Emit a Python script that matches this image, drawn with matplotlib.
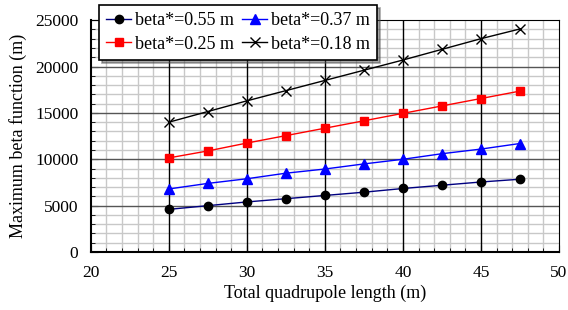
import matplotlib
matplotlib.use('Agg')
import matplotlib.pyplot as plt
from matplotlib.ticker import MultipleLocator

plt.rcParams['font.family'] = ['Liberation Serif', 'DejaVu Serif']

length = [25, 27.5, 30, 32.5, 35, 37.5, 40, 42.5, 45, 47.5]
beta_055 = [4600, 5000, 5400, 5750, 6100, 6450, 6850, 7200, 7550, 7850]
beta_037 = [6800, 7400, 7900, 8500, 8950, 9500, 10000, 10600, 11100, 11700]
beta_025 = [10150, 10900, 11750, 12550, 13350, 14150, 14950, 15750, 16550, 17350]
beta_018 = [14000, 15150, 16300, 17400, 18500, 19600, 20700, 21850, 23000, 24050]

fig = plt.figure(figsize=(5.68, 3.1), dpi=100)
ax = fig.add_axes([0.160, 0.187, 0.824, 0.748])

l1, = ax.plot(length, beta_055, color='#000080', lw=1, marker='o', mfc='black', mec='black', ms=6, label='beta*=0.55 m')
l2, = ax.plot(length, beta_037, color='blue', lw=1, marker='^', ms=7, label='beta*=0.37 m')
l3, = ax.plot(length, beta_025, color='red', lw=1, marker='s', ms=6, label='beta*=0.25 m')
l4, = ax.plot(length, beta_018, color='black', lw=1, marker='x', ms=7, mew=1, label='beta*=0.18 m')

ax.set_xlim(20, 50)
ax.set_ylim(0, 25000)
ax.xaxis.set_major_locator(MultipleLocator(5))
ax.xaxis.set_minor_locator(MultipleLocator(1))
ax.yaxis.set_major_locator(MultipleLocator(5000))
ax.yaxis.set_minor_locator(MultipleLocator(1000))
ax.grid(which='minor', color='#c8c8c8', lw=1)
ax.set_axisbelow(True)
# major grid on top of the minor one so it stays solid
for xv in ax.get_xticks():
    if 20 < xv < 50:
        ax.axvline(xv, color='black', lw=1, zorder=1)
for yv in ax.get_yticks():
    if 0 < yv < 25000:
        ax.axhline(yv, color='#555555', lw=1, zorder=0.9)

ax.tick_params(which='both', direction='in', top=False, right=False, labelsize=12.5, pad=9)
ax.tick_params(which='major', length=5)
ax.tick_params(which='minor', length=3)
for s in ['left', 'bottom']:
    ax.spines[s].set_linewidth(1.5)
for s in ['top', 'right']:
    ax.spines[s].set_linewidth(0.8)

ax.set_xlabel('Total quadrupole length (m)', fontsize=13, labelpad=3)
ax.set_ylabel('Maximum beta function (m)', fontsize=13, labelpad=6)

leg = ax.legend(handles=[l1, l3, l2, l4], ncol=2, fontsize=13, loc='upper left',
                bbox_to_anchor=(0.017, 1.065), frameon=True, fancybox=False, shadow=True,
                framealpha=1, edgecolor='black', borderpad=0.4, columnspacing=0.45,
                handlelength=1.4, handletextpad=0.2, labelspacing=0.35, borderaxespad=0)
leg.get_frame().set_linewidth(1.2)

fig.savefig('out.png', dpi=100)
